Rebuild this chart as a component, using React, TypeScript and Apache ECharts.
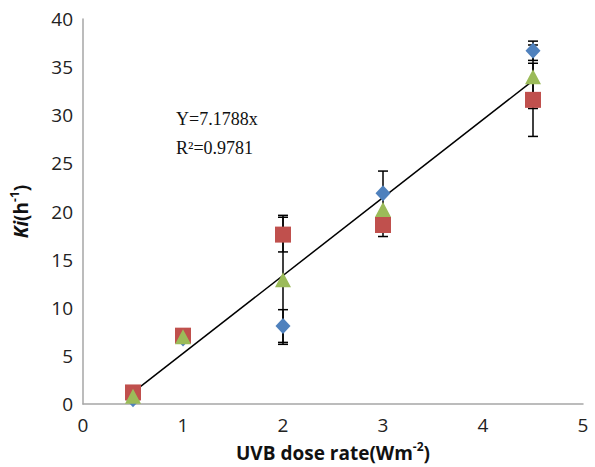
import React, { useEffect, useRef } from "react";
import * as echarts from "echarts";

const xValues = [0.5, 1, 2, 3, 4.5];
const blueValues = [0.5, 6.8, 8.1, 21.9, 36.7];
const redValues = [1.2, 7.1, 17.6, 18.6, 31.6];
const greenValues = [0.8, 7.0, 12.9, 20.2, 34.0];
const blueErr = [0, 0, 1.7, 2.3, 1.0];
const redErr = [0, 0, 1.8, 1.2, 3.8];
const greenErr = [0, 0, 6.7, 0, 3.3];
const trendX = [0.5, 4.5];
const trendY = [1.2, 33.6];
const equationText = "Y=7.1788x";
const r2Text = "R²=0.9781";

const BLUE = "#4F81BD";
const RED = "#C0504D";
const GREEN = "#9BBB59";

function pts(vals: number[]) {
  return xValues.map((x, i) => [x, vals[i]]);
}
function errData(vals: number[], errs: number[]) {
  return xValues
    .map((x, i) => [x, vals[i] - errs[i], vals[i] + errs[i], errs[i]])
    .filter((d) => d[3] > 0);
}

function errSeries(vals: number[], errs: number[]) {
  return {
    type: "custom",
    z: 1,
    silent: true,
    data: errData(vals, errs),
    renderItem: (params: any, api: any) => {
      const x = api.value(0);
      const lo = api.coord([x, api.value(1)]);
      const hi = api.coord([x, api.value(2)]);
      const hw = 5;
      const style = { stroke: "#000", lineWidth: 1.5 };
      return {
        type: "group",
        children: [
          { type: "line", shape: { x1: lo[0], y1: lo[1], x2: hi[0], y2: hi[1] }, style },
          { type: "line", shape: { x1: lo[0] - hw, y1: lo[1], x2: lo[0] + hw, y2: lo[1] }, style },
          { type: "line", shape: { x1: hi[0] - hw, y1: hi[1], x2: hi[0] + hw, y2: hi[1] }, style },
        ],
      };
    },
  };
}

export default function App() {
  const ref = useRef<HTMLDivElement>(null);
  useEffect(() => {
    if (!ref.current) return;
    const chart = echarts.init(ref.current, null, { renderer: "svg" });
    chart.setOption({
      animation: false,
      backgroundColor: "#ffffff",
      grid: { left: 83, right: 12, top: 19, bottom: 60, containLabel: false },
      xAxis: {
        type: "value",
        min: 0,
        max: 5,
        interval: 1,
        splitLine: { show: false },
        axisTick: { show: false },
        axisLine: { show: true, onZero: false, lineStyle: { color: "#a6a6a6", width: 1.5 } },
        axisLabel: { color: "#222", fontSize: 19, fontFamily: "Open Sans", margin: 11 },
        name: "{b|UVB dose rate(Wm}{sup|-2}{b|)}",
        nameLocation: "middle",
        nameGap: 36,
        nameTextStyle: {
          rich: {
            b: { fontSize: 19, fontWeight: "bold", fontFamily: "Open Sans", color: "#111", lineHeight: 22, verticalAlign: "bottom" },
            sup: { fontSize: 12, fontWeight: "bold", fontFamily: "Open Sans", color: "#111", lineHeight: 22, verticalAlign: "top", padding: [0, 0, 8, 0] },
          },
        },
      },
      yAxis: {
        type: "value",
        min: 0,
        max: 40,
        interval: 5,
        splitLine: { show: false },
        axisTick: { show: false },
        axisLine: { show: true, onZero: false, lineStyle: { color: "#a6a6a6", width: 1.5 } },
        axisLabel: { color: "#222", fontSize: 19, fontFamily: "Open Sans", margin: 10 },
        name: "{ki|Ki}{b|(h}{sup|-1}{b|)}",
        nameLocation: "middle",
        nameGap: 53,
        nameRotate: 90,
        nameTextStyle: {
          rich: {
            ki: { fontSize: 19, fontWeight: "bold", fontStyle: "italic", fontFamily: "Open Sans", color: "#111", lineHeight: 22, verticalAlign: "bottom" },
            b: { fontSize: 19, fontWeight: "bold", fontFamily: "Open Sans", color: "#111", lineHeight: 22, verticalAlign: "bottom" },
            sup: { fontSize: 12, fontWeight: "bold", fontFamily: "Open Sans", color: "#111", lineHeight: 22, verticalAlign: "top", padding: [0, 0, 8, 0] },
          },
        },
      },
      series: [
        errSeries(blueValues, blueErr),
        errSeries(redValues, redErr),
        errSeries(greenValues, greenErr),
        {
          type: "line",
          z: 2,
          data: trendX.map((x, i) => [x, trendY[i]]),
          symbol: "none",
          lineStyle: { color: "#000", width: 1.5 },
          silent: true,
        },
        {
          type: "scatter",
          name: "Blue",
          z: 3,
          symbol: "diamond",
          symbolSize: [15, 16],
          itemStyle: { color: BLUE, opacity: 1 },
          data: pts(blueValues),
        },
        {
          type: "scatter",
          name: "Red",
          z: 4,
          symbol: "rect",
          symbolSize: 16,
          itemStyle: { color: RED, opacity: 1 },
          data: pts(redValues),
        },
        {
          type: "scatter",
          name: "Green",
          z: 5,
          symbol: "triangle",
          symbolSize: [16, 15],
          itemStyle: { color: GREEN, opacity: 1 },
          data: pts(greenValues),
        },
      ],
      graphic: [
        {
          type: "text",
          left: 176,
          top: 110,
          style: { text: equationText, font: "18px 'Liberation Serif'", fill: "#111" },
        },
        {
          type: "text",
          left: 176,
          top: 139,
          style: { text: r2Text, font: "18px 'Liberation Serif'", fill: "#111" },
        },
      ],
    });
    return () => chart.dispose();
  }, []);
  return (
    <div
      ref={ref}
      style={{ position: "fixed", left: 0, top: 0, width: 595, height: 467 }}
    />
  );
}
